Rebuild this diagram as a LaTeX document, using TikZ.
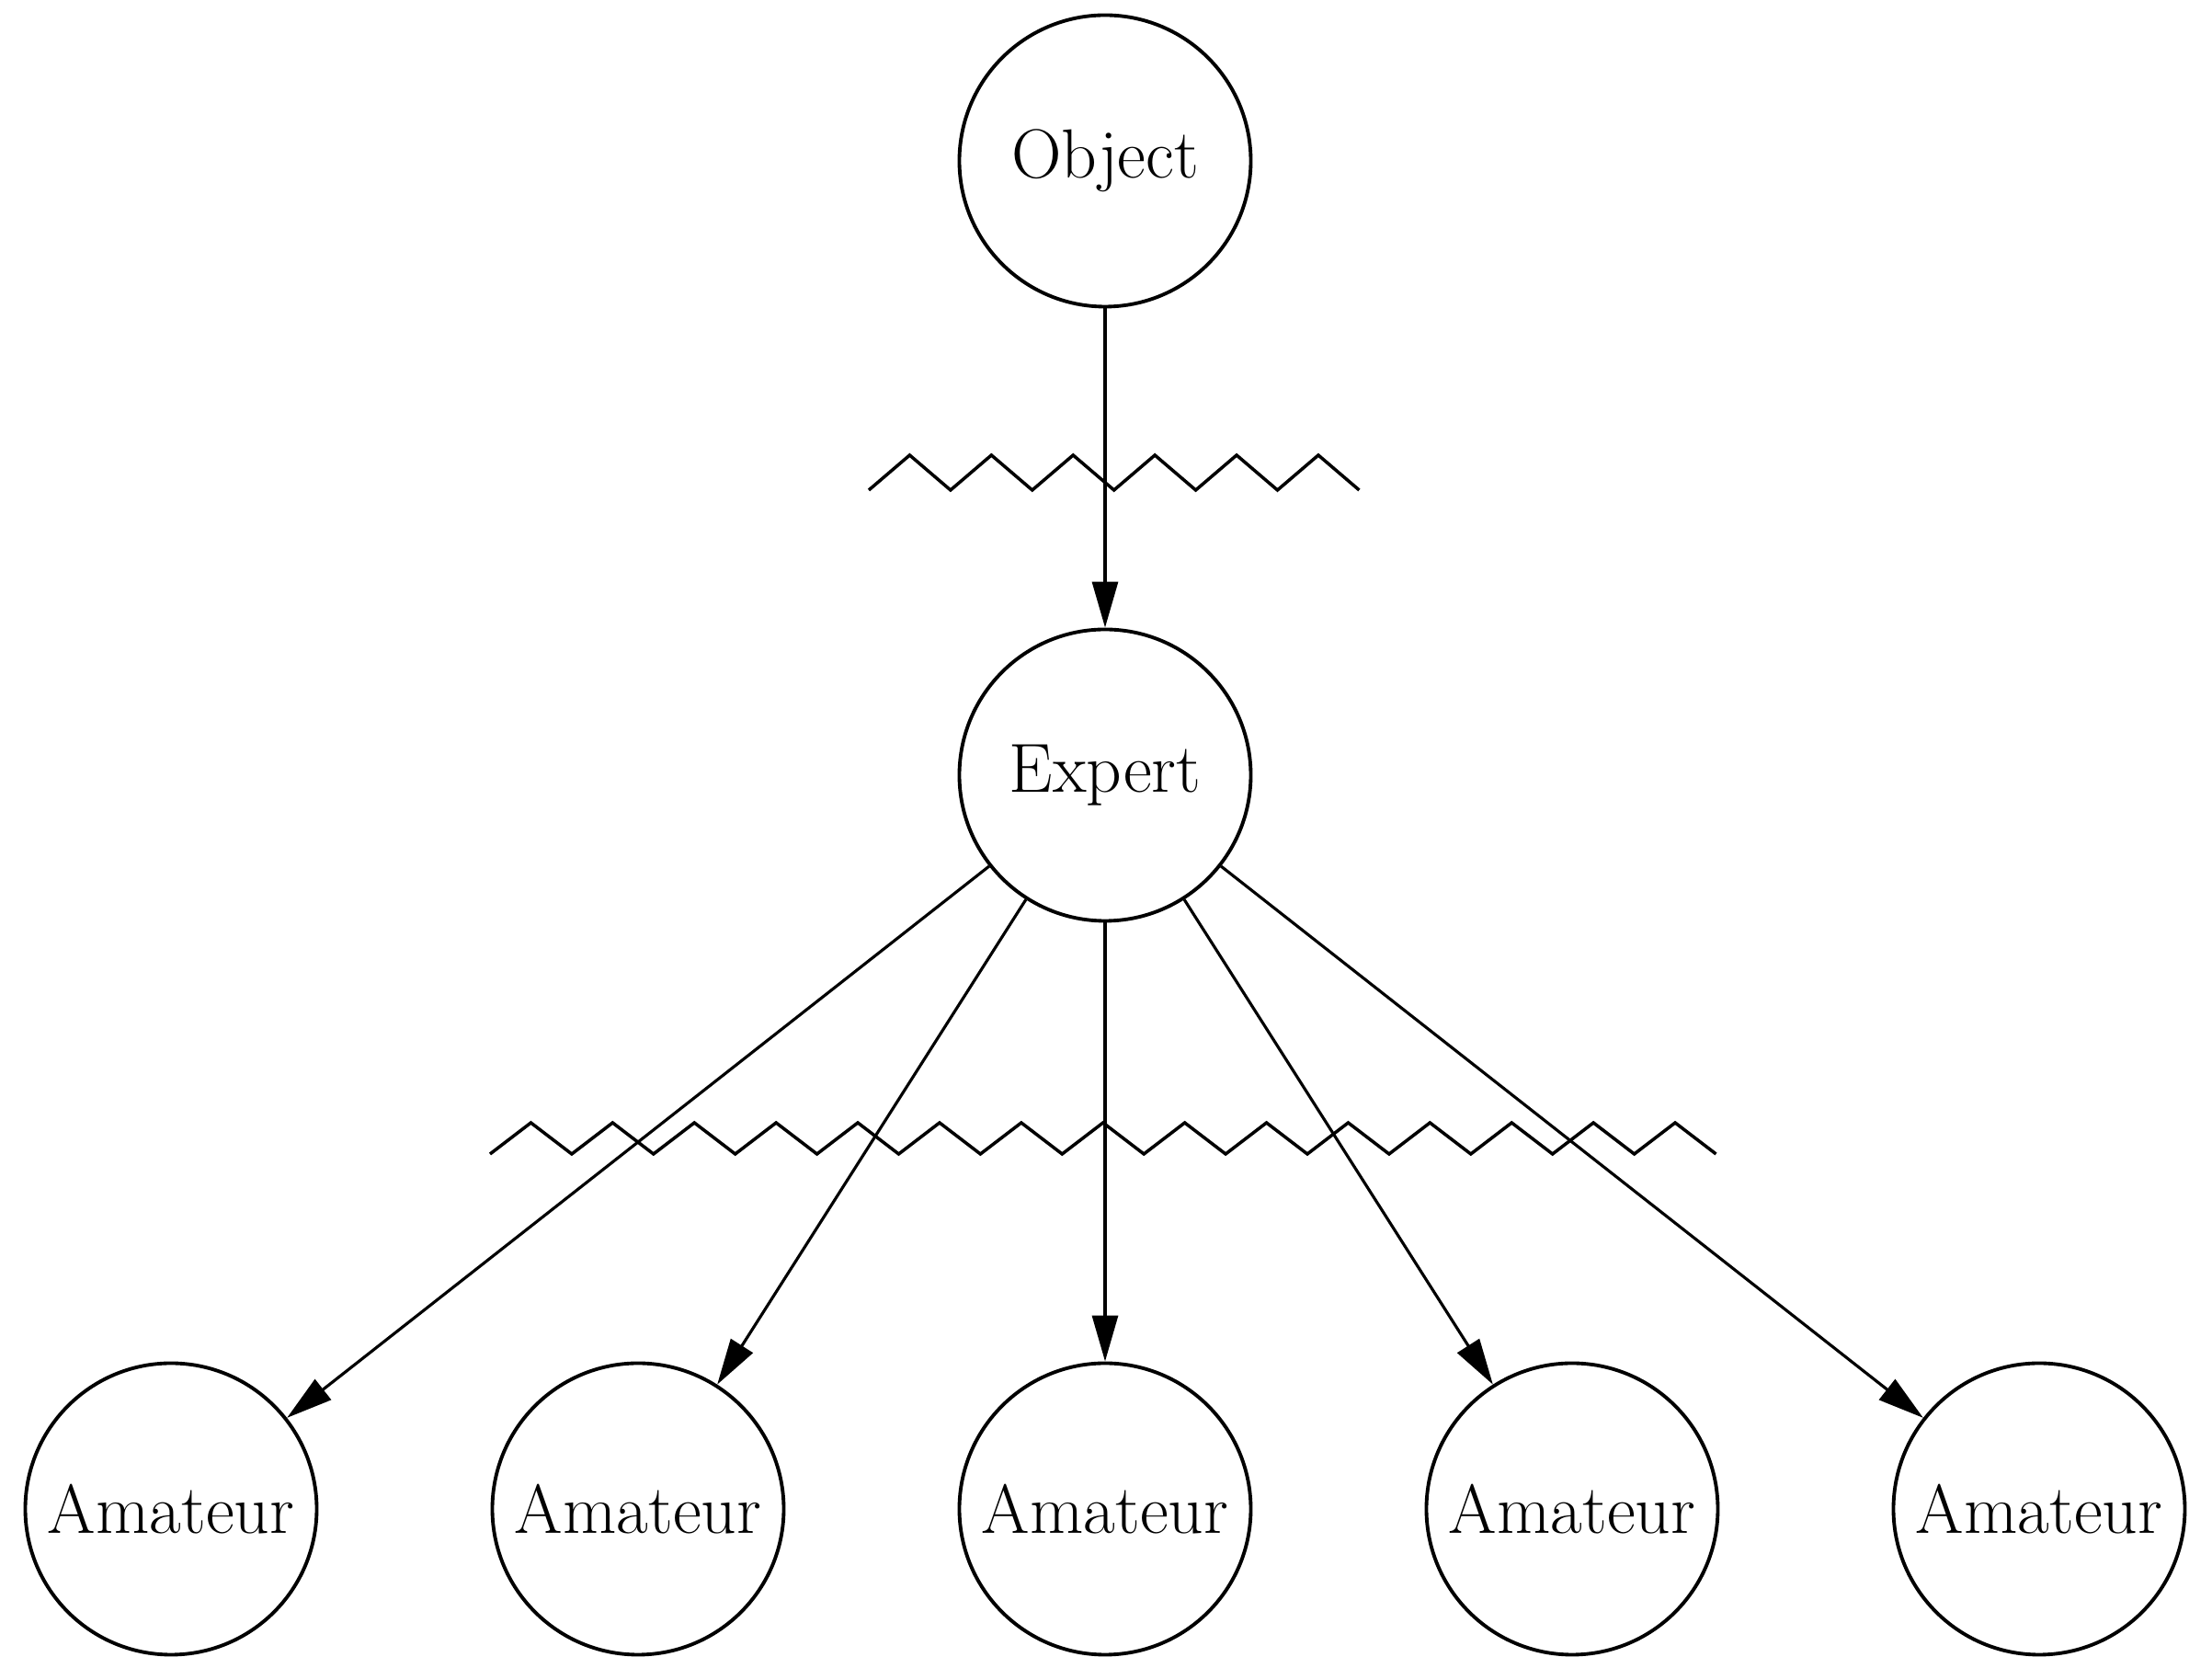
\documentclass[tikz,border=0pt]{standalone}
\usetikzlibrary{arrows.meta}

\NewDocumentCommand{\zigzag}{mmO{0.35}}{%
\draw[wave] (#1) \foreach \k in {1,...,#2} {-- ++(0.4445,#3) -- ++(0.4445,-#3)};%chktex 1, chktex 11
}

\tikzset{
  circ/.style={draw, circle, line width=1.1pt, minimum size=3.17cm, inner sep=0pt,
    font=\fontsize{21.5}{25}\selectfont},
  wave/.style={line width=1pt, line join=miter},
  link/.style={line width=0.9pt, -{Triangle[length=5mm,width=2.8mm]}},
}

\begin{document}
\begin{tikzpicture}
            \useasboundingbox (0,0) rectangle (24.06,18.27);

            \node[circ] (obj) at (12.02,16.52) {Object};
            \node[circ] (exp) at (12.02,9.84) {Expert};
            \foreach \i in {1,...,5} {%
                \node[circ] (am\i) at ({12.02+5.08*(\i-3)},1.86) {Amateur};
            }

            \coordinate (w1) at (9.45,12.94);
            \coordinate (w2) at (5.33,5.72);
            \zigzag{w1}{6}[0.38]
            \zigzag{w2}{15}[0.34]

            \draw[link] (obj) -- (exp);
            \foreach \i in {1,...,5} \draw[link] (exp) -- (am\i);
        \end{tikzpicture}
\end{document}
